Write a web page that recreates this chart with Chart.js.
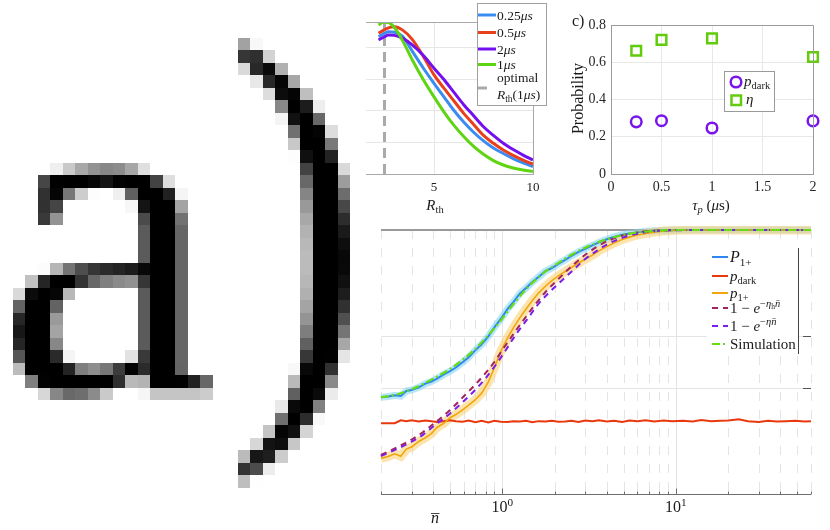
<!DOCTYPE html>
<html>
<head>
<meta charset="utf-8">
<script src="https://cdn.jsdelivr.net/npm/chart.js@4.4.0/dist/chart.umd.min.js"></script>
<style>
  body { margin: 0; background: #fff; width: 830px; height: 530px; position: relative; overflow: hidden; }
  canvas { position: absolute; }
</style>
</head>
<body>
<canvas id="cb" width="225" height="220" style="left:330px;top:0"></canvas>
<canvas id="cc" width="270" height="220" style="left:560px;top:0"></canvas>
<canvas id="cd" width="470" height="315" style="left:360px;top:215px"></canvas>
<canvas id="lbl" width="370" height="530" style="left:0;top:0;z-index:2"></canvas>
<script>
const SERIF = '"Liberation Serif", "Times New Roman", serif';

// ---- panel b : fidelity vs threshold
const rth = [2.2, 2.45, 2.7, 3.0, 3.4, 3.9, 4.5, 5.0, 5.5, 6.0, 6.5, 7.0, 7.5, 8.0, 8.5, 9.0, 9.5, 10];
const fid025 = [0.872, 0.890, 0.903, 0.900, 0.875, 0.780, 0.665, 0.576, 0.490, 0.405, 0.330, 0.265, 0.210, 0.165, 0.130, 0.098, 0.070, 0.047];
const fid05  = [0.893, 0.912, 0.928, 0.935, 0.915, 0.855, 0.738, 0.629, 0.545, 0.465, 0.385, 0.315, 0.245, 0.195, 0.152, 0.118, 0.088, 0.063];
const fid2   = [0.851, 0.868, 0.882, 0.880, 0.863, 0.820, 0.748, 0.671, 0.600, 0.520, 0.440, 0.370, 0.300, 0.245, 0.195, 0.155, 0.120, 0.089];
const fid1   = [0.946, 0.965, 0.962, 0.930, 0.850, 0.725, 0.590, 0.490, 0.395, 0.310, 0.238, 0.175, 0.125, 0.085, 0.057, 0.038, 0.025, 0.016];
const optimalRth = 2.5;
const rthTicks = [5, 10];
const fidGrid = [0.2, 0.4, 0.6, 0.8];
const labelsB = [
  [['0.25', 'r'], ['μs', 'i']],
  [['0.5', 'r'], ['μs', 'i']],
  [['2', 'r'], ['μs', 'i']],
  [['1', 'r'], ['μs', 'i']]
];

// ---- panel c : probabilities vs pulse length
const tauP = [0.25, 0.5, 1, 2];
const pDarkTau = [0.280, 0.286, 0.247, 0.285];
const etaTau = [0.662, 0.720, 0.728, 0.628];

// ---- panel d : detection probability vs mean photon number
const nGrid = [0.2, 0.22, 0.24, 0.26, 0.28, 0.3, 0.33, 0.36, 0.39, 0.42, 0.46, 0.5, 0.54, 0.59, 0.64, 0.7, 0.76, 0.83, 0.9, 0.98,
  1.07, 1.16, 1.26, 1.37, 1.49, 1.62, 1.77, 1.93, 2.1, 2.3, 2.5, 2.75, 3.0, 3.3, 3.6, 4.0, 4.4, 4.9, 5.4, 6.0,
  6.7, 7.5, 8.5, 9.5, 11, 12.5, 14, 16, 18, 20, 23, 26, 30, 34, 38, 43, 49, 55, 60];
const bigP1 = [0.366, 0.369, 0.374, 0.371, 0.390, 0.394, 0.404, 0.418, 0.426, 0.437, 0.453, 0.465, 0.479, 0.499, 0.518, 0.545, 0.567, 0.597, 0.631, 0.663,
  0.700, 0.728, 0.759, 0.780, 0.803, 0.823, 0.844, 0.856, 0.872, 0.887, 0.902, 0.917, 0.929, 0.942, 0.953, 0.965, 0.974, 0.982, 0.987, 0.991,
  0.995, 0.997, 0.998, 0.999, 1, 1, 1, 1, 1, 1, 1, 1, 1, 1, 1, 1, 1, 1, 1];
const pDark = [0.268, 0.268, 0.268, 0.279, 0.276, 0.279, 0.275, 0.278, 0.276, 0.273, 0.276, 0.279, 0.276, 0.274, 0.278, 0.272, 0.277, 0.271, 0.277, 0.274,
  0.273, 0.276, 0.275, 0.277, 0.272, 0.276, 0.275, 0.277, 0.274, 0.275, 0.277, 0.273, 0.278, 0.276, 0.279, 0.275, 0.277, 0.273, 0.278, 0.276,
  0.279, 0.275, 0.278, 0.276, 0.277, 0.275, 0.280, 0.276, 0.277, 0.278, 0.283, 0.276, 0.273, 0.277, 0.275, 0.276, 0.277, 0.275, 0.276];
const smallP1 = [0.135, 0.142, 0.152, 0.143, 0.170, 0.178, 0.199, 0.213, 0.229, 0.252, 0.268, 0.289, 0.301, 0.319, 0.337, 0.357, 0.382, 0.424, 0.478, 0.540,
  0.590, 0.630, 0.667, 0.701, 0.733, 0.762, 0.787, 0.808, 0.826, 0.843, 0.858, 0.875, 0.889, 0.905, 0.921, 0.937, 0.951, 0.964, 0.973, 0.981,
  0.987, 0.992, 0.996, 0.998, 1, 1, 1, 1, 1, 1, 1, 1, 1, 1, 1, 1, 1, 1, 1];
const nFit = [0.2, 0.25, 0.3, 0.35, 0.4, 0.5, 0.6, 0.7, 0.8, 0.9, 1.0, 1.2, 1.4, 1.6, 1.8, 2.0, 2.5, 3.0, 3.5, 4.0, 5.0, 6.0, 7.0, 8.0, 10, 15, 20, 30, 40, 60];
const fitEtaH = [0.148, 0.178, 0.206, 0.235, 0.265, 0.318, 0.370, 0.415, 0.458, 0.500, 0.545, 0.620, 0.680, 0.730, 0.770, 0.800, 0.862, 0.906, 0.936, 0.957, 0.980, 0.991, 0.996, 0.998, 1, 1, 1, 1, 1, 1];
const fitEta  = [0.144, 0.172, 0.198, 0.225, 0.256, 0.305, 0.352, 0.395, 0.438, 0.482, 0.525, 0.605, 0.664, 0.717, 0.754, 0.783, 0.842, 0.890, 0.921, 0.945, 0.972, 0.986, 0.993, 0.997, 0.999, 1, 1, 1, 1, 1];
const simul   = [0.366, 0.378, 0.397, 0.417, 0.437, 0.474, 0.512, 0.550, 0.590, 0.628, 0.665, 0.732, 0.782, 0.818, 0.846, 0.866, 0.906, 0.933, 0.952, 0.965, 0.982, 0.991, 0.995, 0.998, 1, 1, 1, 1, 1, 1];
const nMajor = [1, 10];
const nMinor = [0.2, 0.3, 0.4, 0.5, 0.6, 0.7, 0.8, 0.9, 2, 3, 4, 5, 6, 7, 8, 9, 20, 30, 40, 50, 60];
const probGridD = [0.4, 0.6];
const labelsD = [
  [['P', 'i'], ['1+', 'sub']],
  [['p', 'i'], ['dark', 'sub']],
  [['p', 'i'], ['1+', 'sub']],
  [['1 − ', 'r'], ['e', 'i'], ['−', 'sup'], ['η', 'supi'], ['h', 'ss'], ['n̄', 'supi']],
  [['1 − ', 'r'], ['e', 'i'], ['−', 'sup'], ['η', 'supi'], ['n̄', 'supi']],
  [['Simulation', 'r']]
];

Chart.defaults.font.family = SERIF;
Chart.defaults.color = '#262626';

const xy = (xs, ys) => xs.map((x, i) => ({ x: x, y: ys[i] }));

// draws a small run of latex-ish text, returns width
function drawMath(ctx, runs, x, y, size, align) {
  const items = [];
  let w = 0;
  for (const [t, k] of runs) {
    let fs = size, dy = 0;
    if (k.startsWith('sub')) { fs = size * 0.7; dy = size * 0.22; }
    else if (k.startsWith('sup')) { fs = size * 0.7; dy = -size * 0.4; }
    else if (k === 'ss') { fs = size * 0.5; dy = -size * 0.28; }
    const it = k === 'i' || k.endsWith('i');
    ctx.font = (it ? 'italic ' : '') + fs.toFixed(1) + 'px ' + SERIF;
    const tw = ctx.measureText(t).width;
    items.push({ t: t, font: ctx.font, x: w, dy: dy });
    w += tw;
  }
  const x0 = align === 'center' ? x - w / 2 : align === 'right' ? x - w : x;
  ctx.textAlign = 'left';
  ctx.textBaseline = 'alphabetic';
  for (const it of items) {
    ctx.font = it.font;
    ctx.fillText(it.t, x0 + it.x, y + it.dy);
  }
  return w;
}

function seg(ctx, x1, y1, x2, y2) {
  ctx.beginPath(); ctx.moveTo(x1, y1); ctx.lineTo(x2, y2); ctx.stroke();
}

// ---------- panel a : pixelated label
function fitGlyph(g, ch, x0, y0, x1, y1) {
  g.font = '400px ' + SERIF;
  g.textAlign = 'left';
  g.textBaseline = 'alphabetic';
  const m = g.measureText(ch);
  const gw = m.actualBoundingBoxLeft + m.actualBoundingBoxRight;
  const gh = m.actualBoundingBoxAscent + m.actualBoundingBoxDescent;
  const sx = (x1 - x0) / gw, sy = (y1 - y0) / gh;
  g.setTransform(sx, 0, 0, sy, x0 + m.actualBoundingBoxLeft * sx, y0 + m.actualBoundingBoxAscent * sy);
  g.fillText(ch, 0, 0);
  g.setTransform(1, 0, 0, 1, 0, 0);
}
(function drawLabel() {
  const cell = 12.5, cols = 30, rows = 42;
  const big = document.createElement('canvas');
  big.width = 375; big.height = 525;
  const g = big.getContext('2d');
  g.fillStyle = '#000';
  fitGlyph(g, 'a', 12, 162, 215, 398);
  fitGlyph(g, ')', 240, 37, 353, 485);
  const px = g.getImageData(0, 0, big.width, big.height).data;
  const ctx = document.getElementById('lbl').getContext('2d');
  ctx.fillStyle = '#fff';
  ctx.fillRect(0, 0, 366, 530);
  for (let j = 0; j < rows; j++) {
    for (let i = 0; i < cols; i++) {
      const x0 = Math.round(i * cell), x1 = Math.round((i + 1) * cell);
      const y0 = Math.round(j * cell), y1 = Math.round((j + 1) * cell);
      let s = 0, n = 0;
      for (let y = y0; y < y1 && y < big.height; y++) {
        for (let x = x0; x < x1 && x < big.width; x++) { s += px[(y * big.width + x) * 4 + 3]; n++; }
      }
      if (!n || s === 0) continue;
      const v = Math.round(255 - s / n);
      ctx.fillStyle = 'rgb(' + v + ',' + v + ',' + v + ')';
      ctx.fillRect(x0, y0, x1 - x0, y1 - y0);
    }
  }
})();

// ---------- panel b
const decorB = {
  id: 'decorB',
  afterDatasetsDraw(chart) {
    const { ctx, chartArea: a } = chart;
    ctx.save();
    ctx.strokeStyle = '#a8a8a8';
    ctx.lineWidth = 1;
    ctx.beginPath();
    ctx.moveTo(a.left, a.top + 0.5);
    ctx.lineTo(a.right + 0.5, a.top + 0.5);
    ctx.lineTo(a.right + 0.5, a.bottom);
    ctx.stroke();

    // legend
    const bx = 147, by = 3, bw = 69, bh = 102;
    ctx.fillStyle = '#fff';
    ctx.fillRect(bx, by, bw, bh);
    ctx.strokeStyle = '#a0a0a0';
    ctx.strokeRect(bx + 0.5, by + 0.5, bw, bh);
    const rows = [15, 32.5, 49, 64.5];
    chart.data.datasets.slice(0, 4).forEach((d, i) => {
      ctx.strokeStyle = d.borderColor;
      ctx.lineWidth = 3;
      seg(ctx, bx + 1, rows[i], bx + 19, rows[i]);
      ctx.fillStyle = '#1a1a1a';
      drawMath(ctx, labelsB[i], bx + 20, rows[i] + 4.5, 13.5, 'left');
    });
    ctx.strokeStyle = '#aaaaaa';
    ctx.lineWidth = 3;
    seg(ctx, bx + 1, 88, bx + 10, 88);
    ctx.fillStyle = '#1a1a1a';
    drawMath(ctx, [['optimal', 'r']], bx + 20, 82, 13.5, 'left');
    drawMath(ctx, [['R', 'i'], ['th', 'sub'], ['(1', 'r'], ['μs', 'i'], [')', 'r']], bx + 20, 99, 13.5, 'left');

    // axis title
    drawMath(ctx, [['R', 'i'], ['th', 'sub']], 105, 210, 15, 'center');
    ctx.restore();
  }
};

const lineB = (label, ys, color, order) => ({
  label: label, data: xy(rth, ys), borderColor: color, borderWidth: 3,
  pointRadius: 0, cubicInterpolationMode: 'monotone', order: order
});

new Chart('cb', {
  type: 'line',
  data: {
    datasets: [
      lineB('0.25μs', fid025, '#3a8cf3', 4),
      lineB('0.5μs', fid05, '#e8401c', 3),
      lineB('2μs', fid2, '#7410ee', 2),
      lineB('1μs', fid1, '#5fd412', 1),
      {
        label: 'optimal R_th(1μs)', data: [{ x: optimalRth, y: 0 }, { x: optimalRth, y: 0.965 }],
        borderColor: '#aaaaaa', borderWidth: 3, borderDash: [10, 6], pointRadius: 0, order: 5
      }
    ]
  },
  options: {
    responsive: false, animation: false, devicePixelRatio: 1,
    layout: { padding: { left: 5, top: 22, right: 22, bottom: 0 } },
    plugins: { legend: { display: false }, tooltip: { enabled: false } },
    scales: {
      x: {
        type: 'linear', min: 0, max: 10,
        afterBuildTicks: s => { s.ticks = rthTicks.map(v => ({ value: v })); },
        afterFit: s => { s.height = 46; },
        grid: { color: '#e6e6e6', drawTicks: false },
        border: { color: '#a8a8a8' },
        ticks: { font: { size: 13 }, color: '#222', padding: 6, maxRotation: 0 }
      },
      y: {
        min: 0, max: 0.965,
        afterBuildTicks: s => { s.ticks = fidGrid.map(v => ({ value: v })); },
        afterFit: s => { s.width = 0; },
        ticks: { display: false },
        grid: { color: '#e6e6e6', drawTicks: false },
        border: { display: false }
      }
    }
  },
  plugins: [decorB]
});

// ---------- panel c
const decorC = {
  id: 'decorC',
  afterDatasetsDraw(chart) {
    const { ctx, chartArea: a } = chart;
    const ds = chart.data.datasets;
    ctx.save();
    ctx.strokeStyle = '#9a9a9a';
    ctx.lineWidth = 1;
    ctx.beginPath();
    ctx.moveTo(a.left, Math.round(a.top) + 0.5);
    ctx.lineTo(Math.round(a.right) + 0.5, Math.round(a.top) + 0.5);
    ctx.lineTo(Math.round(a.right) + 0.5, a.bottom);
    ctx.stroke();

    ctx.fillStyle = '#1a1a1a';
    drawMath(ctx, [['c)', 'r']], 12, 26, 16, 'left');
    drawMath(ctx, [['τ', 'i'], ['p', 'subi'], [' (', 'r'], ['μ', 'i'], ['s', 'r'], [')', 'r']], 151, 210, 15, 'center');
    ctx.save();
    ctx.translate(19, 98.5);
    ctx.rotate(-Math.PI / 2);
    ctx.font = '16px ' + SERIF;
    ctx.textAlign = 'center';
    ctx.textBaseline = 'middle';
    ctx.fillText('Probability', 0, 0);
    ctx.restore();

    // legend
    const bx = 164, by = 71, bw = 50, bh = 40;
    ctx.fillStyle = '#fff';
    ctx.fillRect(bx, by, bw, bh);
    ctx.strokeStyle = '#9a9a9a';
    ctx.lineWidth = 1;
    ctx.strokeRect(bx + 0.5, by + 0.5, bw, bh);
    ctx.lineWidth = 2.5;
    ctx.strokeStyle = ds[0].pointBorderColor;
    ctx.beginPath(); ctx.arc(bx + 12, 82, ds[0].pointRadius, 0, Math.PI * 2); ctx.stroke();
    ctx.strokeStyle = ds[1].pointBorderColor;
    ctx.strokeRect(bx + 7.5, 95.5, 9.5, 9.5);
    ctx.fillStyle = '#1a1a1a';
    drawMath(ctx, [['p', 'i'], ['dark', 'sub']], bx + 20, 86, 15, 'left');
    drawMath(ctx, [['η', 'i']], bx + 22, 104, 15, 'left');
    ctx.restore();
  }
};

new Chart('cc', {
  type: 'scatter',
  data: {
    datasets: [
      {
        label: 'p_dark', data: xy(tauP, pDarkTau), pointStyle: 'circle', pointRadius: 5.3,
        pointBorderWidth: 2.5, pointBorderColor: '#7a14ec', pointBackgroundColor: 'rgba(0,0,0,0)', clip: false
      },
      {
        label: 'η', data: xy(tauP, etaTau), pointStyle: 'rect', pointRadius: 6.8,
        pointBorderWidth: 2.5, pointBorderColor: '#62cc0a', pointBackgroundColor: 'rgba(0,0,0,0)', clip: false
      }
    ]
  },
  options: {
    responsive: false, animation: false, devicePixelRatio: 1,
    layout: { padding: { left: 6, top: 25, right: 17, bottom: 0 } },
    plugins: { legend: { display: false }, tooltip: { enabled: false } },
    scales: {
      x: {
        type: 'linear', min: 0, max: 2,
        ticks: { stepSize: 0.5, font: { size: 14 }, color: '#262626', padding: 5, maxRotation: 0,
          callback: v => String(Math.round(v * 100) / 100) },
        afterFit: s => { s.height = 46; },
        grid: { color: '#e8e8e8', drawTicks: false },
        border: { color: '#9a9a9a' }
      },
      y: {
        min: 0, max: 0.8,
        ticks: { stepSize: 0.2, font: { size: 14 }, color: '#262626', padding: 5,
          callback: v => (v === 0 ? '0' : v.toFixed(1)) },
        afterFit: s => { s.width = 45; },
        grid: { color: '#e8e8e8', drawTicks: false },
        border: { color: '#9a9a9a' }
      }
    }
  },
  plugins: [decorC]
});

// ---------- panel d
const axesD = {
  id: 'axesD',
  beforeDatasetsDraw(chart) {
    const { ctx, chartArea: a, scales: { x, y } } = chart;
    ctx.save();
    ctx.lineWidth = 1;
    ctx.strokeStyle = '#e4e4e4';
    for (const v of probGridD) {
      const py = Math.round(y.getPixelForValue(v)) + 0.5;
      seg(ctx, a.left, py, a.right, py);
    }
    for (const v of nMajor) {
      const px = Math.round(x.getPixelForValue(v)) + 0.5;
      seg(ctx, px, a.top, px, a.bottom);
    }
    ctx.setLineDash([9, 9]);
    for (const v of nMinor) {
      const px = Math.round(x.getPixelForValue(v)) + 0.5;
      seg(ctx, px, a.top, px, a.bottom);
    }
    ctx.setLineDash([]);
    ctx.strokeStyle = '#9a9a9a';
    ctx.lineWidth = 2;
    seg(ctx, a.left, a.top, a.right, a.top);
    ctx.restore();
  },
  afterDatasetsDraw(chart) {
    const { ctx, chartArea: a, scales: { x, y } } = chart;
    const ds = chart.data.datasets;
    ctx.save();
    const by = Math.round(a.bottom) + 0.5;
    ctx.strokeStyle = '#6e6e6e';
    ctx.lineWidth = 1;
    seg(ctx, a.left, by, a.right, by);
    for (const v of nMinor) {
      const px = Math.round(x.getPixelForValue(v)) + 0.5;
      seg(ctx, px, by, px, by - 3);
    }
    for (const v of nMajor) {
      const px = Math.round(x.getPixelForValue(v)) + 0.5;
      seg(ctx, px, by, px, by - 6);
    }
    ctx.strokeStyle = '#555';
    for (const v of probGridD) {
      const py = Math.round(y.getPixelForValue(v)) + 0.5;
      seg(ctx, a.right - 8, py, a.right, py);
    }
    ctx.fillStyle = '#1a1a1a';
    nMajor.forEach(v => {
      drawMath(ctx, [['10', 'r'], [String(Math.round(Math.log10(v))), 'sup']], x.getPixelForValue(v), 297, 16, 'center');
    });
    // x title: n with a bar
    ctx.font = 'italic 16px ' + SERIF;
    ctx.textAlign = 'center';
    ctx.textBaseline = 'alphabetic';
    ctx.fillText('n', 75, 308);
    ctx.strokeStyle = '#1a1a1a';
    ctx.lineWidth = 0.8;
    seg(ctx, 71, 298.5, 79.5, 298.5);

    // legend
    ctx.fillStyle = '#fff';
    ctx.fillRect(347, 33, 91, 106);
    ctx.strokeStyle = '#444';
    ctx.lineWidth = 1;
    seg(ctx, 438.5, 33, 438.5, 139);
    const rows = [42, 61, 78, 93, 111, 129];
    const legendSets = [2, 3, 4, 5, 6, 7];
    legendSets.forEach((k, i) => {
      const d = ds[k];
      ctx.strokeStyle = d.borderColor;
      ctx.lineWidth = Math.max(2, d.borderWidth);
      ctx.setLineDash(d.borderDash || []);
      seg(ctx, 352, rows[i], 368, rows[i]);
      ctx.setLineDash([]);
      ctx.fillStyle = '#1a1a1a';
      drawMath(ctx, labelsD[i], 370, rows[i] + 5, i === 0 ? 16 : 15, 'left');
    });
    ctx.restore();
  }
};

new Chart('cd', {
  type: 'line',
  data: {
    datasets: [
      { label: 'band P', data: xy(nGrid, bigP1), borderColor: 'rgba(125,210,245,0.55)', borderWidth: 7, pointRadius: 0, order: 10 },
      { label: 'band p', data: xy(nGrid, smallP1), borderColor: 'rgba(250,205,110,0.55)', borderWidth: 9, pointRadius: 0, order: 9 },
      { label: 'P1+', data: xy(nGrid, bigP1), borderColor: '#2f86ee', borderWidth: 2, pointRadius: 0, order: 6 },
      { label: 'p_dark', data: xy(nGrid, pDark), borderColor: '#e8390e', borderWidth: 2, pointRadius: 0, order: 5 },
      { label: 'p1+', data: xy(nGrid, smallP1), borderColor: '#f2a60c', borderWidth: 1.6, pointRadius: 0, order: 4 },
      { label: '1-e^-eta_h n', data: xy(nFit, fitEtaH), borderColor: '#a2245c', borderWidth: 2, borderDash: [6, 5], pointRadius: 0, cubicInterpolationMode: 'monotone', order: 3 },
      { label: '1-e^-eta n', data: xy(nFit, fitEta), borderColor: '#7b1ee8', borderWidth: 2, borderDash: [6, 5], pointRadius: 0, cubicInterpolationMode: 'monotone', order: 2 },
      { label: 'Simulation', data: xy(nFit, simul), borderColor: '#66dd11', borderWidth: 2.2, borderDash: [8, 3, 2, 3], pointRadius: 0, cubicInterpolationMode: 'monotone', order: 1 }
    ]
  },
  options: {
    responsive: false, animation: false, devicePixelRatio: 1,
    layout: { padding: { left: 21, top: 15, right: 19, bottom: 36 } },
    plugins: { legend: { display: false }, tooltip: { enabled: false } },
    datasets: { line: { clip: 4 } },
    scales: {
      x: { type: 'logarithmic', min: 0.2, max: 60, display: false },
      y: { min: 0, max: 1, display: false }
    }
  },
  plugins: [axesD]
});
</script>
</body>
</html>
